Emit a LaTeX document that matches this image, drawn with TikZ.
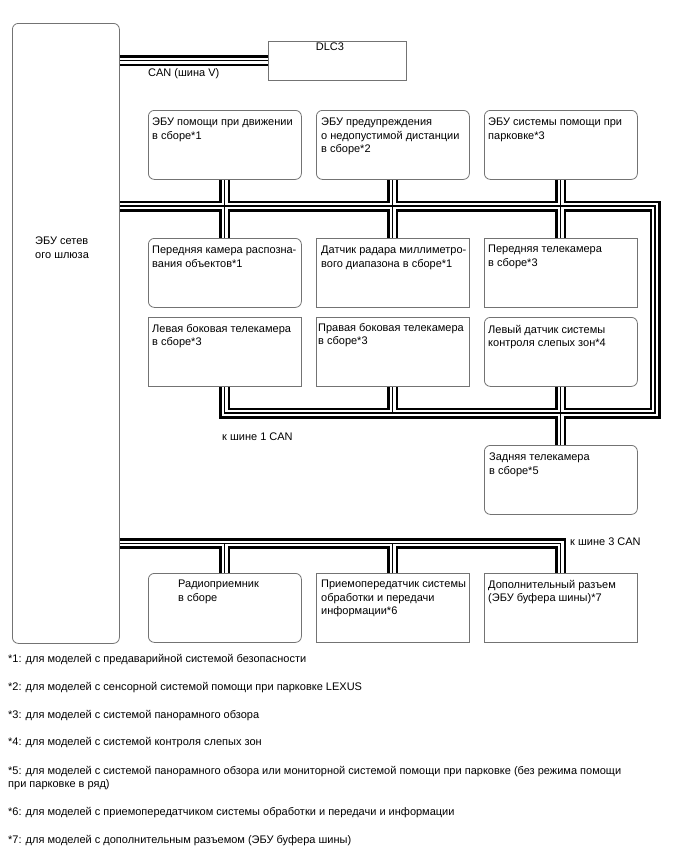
\documentclass[tikz,border=0pt]{standalone}
\usepackage{fontspec}
\setmainfont{Liberation Sans}
\newcommand\fs{\fontsize{11}{13.5}\selectfont}
\definecolor{boxgray}{gray}{0.45}
\pgfdeclarelayer{bg}
\pgfsetlayers{bg,main}
\newcommand\busnet[1]{%
  \draw[#1] (gw.east |- dlc.west) -- (dlc.west);
  \draw[#1] (gw.east |- b1r) -- (b1r) -- (b1b) -- (G.south |- b1b) -- (G.south);
  \draw[#1] (A.south) -- (D.north);
  \draw[#1] (B.south) -- (E.north);
  \draw[#1] (C.south) -- (F.north);
  \draw[#1] (H.south) -- (H.south |- b1b);
  \draw[#1] (I.south) -- (J.north);
  \draw[#1] (gw.east |- b3) -- (M.north |- b3) -- (M.north);
  \draw[#1] (K.north) -- (K.north |- b3);
  \draw[#1] (L.north) -- (L.north |- b3);
}
\begin{document}
\begin{tikzpicture}[x=1pt,y=-1pt,
  rbox/.style={draw=boxgray,line width=0.8pt,rounded corners=6pt,anchor=north west,
               minimum width=153pt,minimum height=69pt,inner sep=0pt},
  sbox/.style={rbox,rounded corners=0pt},
  txt/.style={anchor=north west,inner sep=0pt,align=left,font=\fs},
  lbl/.style={anchor=west,inner sep=0pt,font=\fs},
  busA/.style={line width=11pt,black,line join=miter},
  busB/.style={line width=5.5pt,white,line join=miter},
  busC/.style={line width=1.1pt,black,line join=miter},
]
\useasboundingbox (0,0) rectangle (688,852);

% gateway and DLC3
\node[rbox,minimum width=107pt,minimum height=620pt] (gw) at (12,23) {};
\node[txt] (gwt) at (35,237) {ЭБУ сетев\\ого шлюза};
\node[sbox,minimum width=138pt,minimum height=39pt] (dlc) at (268,41) {};
\node[font=\fs,anchor=north,inner sep=0pt] (dlct) at (330,43) {DLC3};
\node[lbl] (canv) at (148,74) {CAN (шина V)};

% row 1
\node[rbox] (A) at (148,110) {};
\node[rbox] (B) at (316,110) {};
\node[rbox] (C) at (484,110) {};
\node[txt] (At) at ([shift={(4,8)}]A.north west) {ЭБУ помощи при движении\\в сборе*1};
\node[txt] (Bt) at ([shift={(5,8)}]B.north west) {ЭБУ предупреждения\\о недопустимой дистанции\\в сборе*2};
\node[txt] (Ct) at ([shift={(4,8)}]C.north west) {ЭБУ системы помощи при\\парковке*3};

% row 2
\node[rbox] (D) at (148,238) {};
\node[sbox] (E) at (316,238) {};
\node[sbox] (F) at (484,238) {};
\node[txt] (Dt) at ([shift={(4,8)}]D.north west) {Передняя камера распозна-\\вания объектов*1};
\node[txt] (Et) at ([shift={(5,8)}]E.north west) {Датчик радара миллиметро-\\вого диапазона в сборе*1};
\node[txt] (Ft) at ([shift={(4,7)}]F.north west) {Передняя телекамера\\в сборе*3};

% row 3
\node[sbox] (G) at (148,317) {};
\node[sbox] (H) at (316,317) {};
\node[rbox] (I) at (484,317) {};
\node[txt] (Gt) at ([shift={(4,7)}]G.north west) {Левая боковая телекамера\\в сборе*3};
\node[txt] (Ht) at ([shift={(2,6)}]H.north west) {Правая боковая телекамера\\в сборе*3};
\node[txt] (It) at ([shift={(4,8)}]I.north west) {Левый датчик системы\\контроля слепых зон*4};

% rear camera
\node[rbox] (J) at (484,445) {};
\node[txt] (Jt) at ([shift={(5,8)}]J.north west) {Задняя телекамера\\в сборе*5};
\node[lbl] (can1) at (222,437) {к шине 1 CAN};

% bottom row
\node[rbox] (K) at (148,573) {};
\node[sbox] (L) at (316,573) {};
\node[sbox] (M) at (484,573) {};
\node[txt] (Kt) at ([shift={(30,7)}]K.north west) {Радиоприемник\\в сборе};
\node[txt] (Lt) at ([shift={(5,7)}]L.north west) {Приемопередатчик системы\\обработки и передачи\\информации*6};
\node[txt] (Mt) at ([shift={(4,7)}]M.north west) {Дополнительный разъем\\(ЭБУ буфера шины)*7};
\node[lbl] (can3) at (570,542) {к шине 3 CAN};

% bus coordinates
\coordinate (b1r) at (655,206);
\coordinate (b1b) at (655,413);
\coordinate (b3) at (300,543.5);

\begin{pgfonlayer}{bg}
\fill[white] (0,0) rectangle (688,852);
\busnet{busA}
\busnet{busB}
\busnet{busC}
\end{pgfonlayer}

% footnotes
\node[lbl] (f1) at (8,660) {*1: для моделей с предаварийной системой безопасности};
\node[lbl] (f2) at (8,688) {*2: для моделей с сенсорной системой помощи при парковке LEXUS};
\node[lbl] (f3) at (8,716) {*3: для моделей с системой панорамного обзора};
\node[lbl] (f4) at (8,743) {*4: для моделей с системой контроля слепых зон};
\node[txt] (f5) at (8,766) {*5: для моделей с системой панорамного обзора или мониторной системой помощи при парковке (без режима помощи\\при парковке в ряд)};
\node[lbl] (f6) at (8,813) {*6: для моделей с приемопередатчиком системы обработки и передачи и информации};
\node[lbl] (f7) at (8,841) {*7: для моделей с дополнительным разъемом (ЭБУ буфера шины)};
\end{tikzpicture}
\end{document}
